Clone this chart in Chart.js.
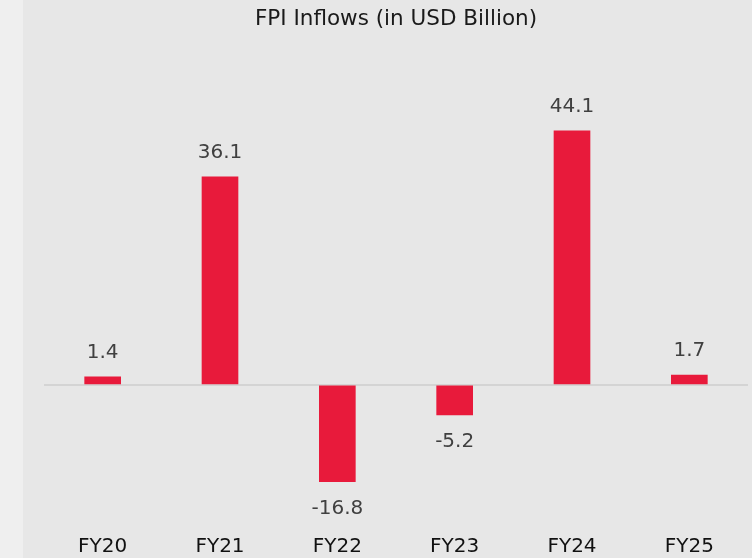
<!DOCTYPE html>
<html>
<head>
<meta charset="utf-8">
<script src="https://cdn.jsdelivr.net/npm/chart.js@4/dist/chart.umd.min.js"></script>
<style>
  body { margin: 0; background: #e7e7e7; }
  #wrap { width: 752px; height: 558px; position: relative; }
</style>
</head>
<body>
<div id="wrap"><canvas id="fpiChart"></canvas></div>
<script>
const years = ['FY20', 'FY21', 'FY22', 'FY23', 'FY24', 'FY25'];
const inflows = [1.4, 36.1, -16.8, -5.2, 44.1, 1.7];

// background with the lighter strip on the left
const backgroundPlugin = {
    id: 'bg',
    beforeDraw(chart) {
        const c = chart.ctx;
        c.save();
        c.fillStyle = '#e7e7e7';
        c.fillRect(0, 0, chart.width, chart.height);
        c.fillStyle = '#efefef';
        c.fillRect(0, 0, 23, chart.height);
        c.restore();
    }
};

// value labels above positive bars, below negative ones
const valueLabels = {
    id: 'valueLabels',
    afterDatasetsDraw(chart) {
        const c = chart.ctx;
        const meta = chart.getDatasetMeta(0);
        c.save();
        c.font = '20px "DejaVu Sans"';
        c.fillStyle = '#404040';
        c.textAlign = 'center';
        c.textBaseline = 'middle';
        meta.data.forEach((bar, i) => {
            const v = inflows[i];
            const y = v >= 0 ? bar.y - 24 : bar.y + 27;
            c.fillText(v.toFixed(1), bar.x, y);
        });
        c.restore();
    }
};

new Chart(document.getElementById('fpiChart'), {
    type: 'bar',
    data: {
        labels: years,
        datasets: [{
            data: inflows,
            backgroundColor: '#e81a3b',
            barThickness: 36
        }]
    },
    options: {
        responsive: true,
        maintainAspectRatio: false,
        animation: false,
        layout: { padding: { left: 44, right: 4, top: 0, bottom: -7 } },
        plugins: {
            legend: { display: false },
            tooltip: { enabled: false },
            title: {
                display: true,
                text: 'FPI Inflows (in USD Billion)',
                color: '#1a1a1a',
                font: { family: 'DejaVu Sans', size: 21.5, weight: 'normal' },
                padding: { top: 7, bottom: 64 }
            }
        },
        scales: {
            x: {
                grid: { display: false, drawTicks: false },
                border: { display: false },
                ticks: {
                    color: '#111111',
                    font: { family: 'DejaVu Sans', size: 20 },
                    padding: 6
                }
            },
            y: {
                min: -25,
                max: 50,
                ticks: { display: false, stepSize: 5 },
                border: { display: false },
                grid: {
                    drawTicks: false,
                    lineWidth: 2,
                    color: ctx => ctx.tick.value === 0 ? '#d4d4d4' : 'rgba(0,0,0,0)'
                }
            }
        }
    },
    plugins: [backgroundPlugin, valueLabels]
});
</script>
</body>
</html>
